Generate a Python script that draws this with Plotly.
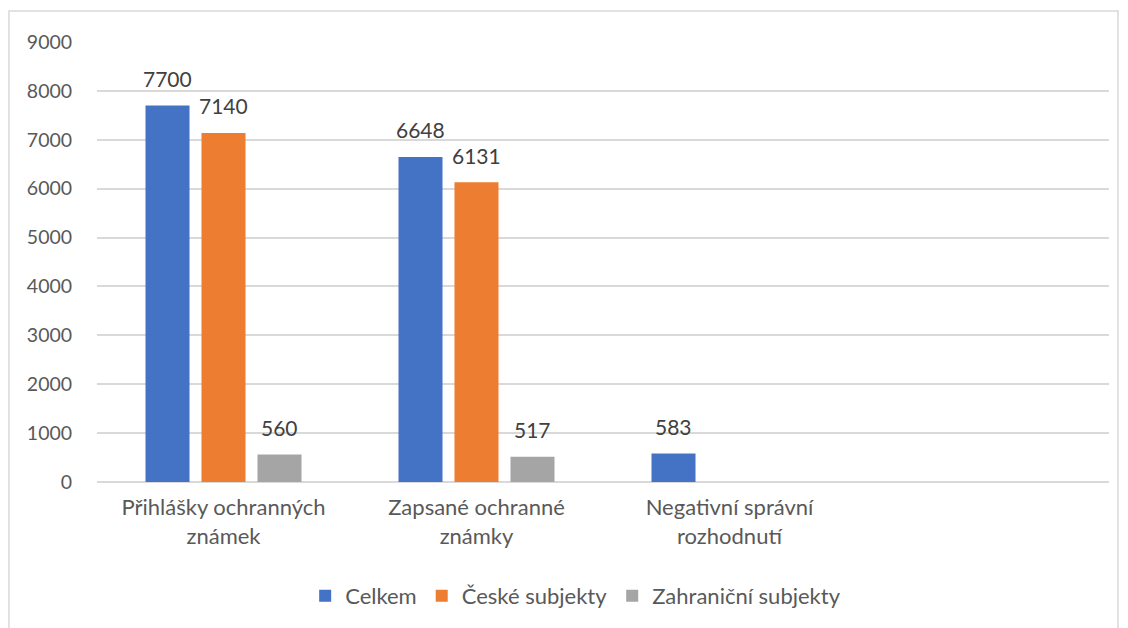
import plotly.graph_objects as go

categories = ["Přihlášky ochranných<br>známek", "Zapsané ochranné<br>známky", "Negativní správní<br>rozhodnutí", " "]
celkem = [7700, 6648, 583, None]
ceske = [7140, 6131, None, None]
zahranicni = [560, 517, None, None]
series_names = ["Celkem", "České subjekty", "Zahraniční subjekty"]
colors = ["#4472C4", "#ED7D31", "#A5A5A5"]

FONT = "Lato, Open Sans, sans-serif"

fig = go.Figure()
annotations = []
slot_px = 56
for i, (name, vals, col) in enumerate(zip(series_names, [celkem, ceske, zahranicni], colors)):
    fig.add_trace(go.Bar(
        name=name, x=categories, y=vals, marker=dict(color=col, line=dict(width=0)),
    ))
    for cat, v in zip(categories, vals):
        if v is None:
            continue
        annotations.append(dict(
            x=cat, y=v, xref="x", yref="y", text=str(v), showarrow=False,
            xshift=(i - 1) * slot_px, yshift=27, yanchor="middle", xanchor="center",
            font=dict(family=FONT, size=21, color="#404040"),
        ))

fig.update_layout(
    width=1120, height=620,
    margin=dict(l=89, r=19, t=34, b=145),
    paper_bgcolor="white", plot_bgcolor="white",
    barmode="group", bargap=0.336, bargroupgap=0.214,
    font=dict(family=FONT, size=20, color="#595959"),
    showlegend=True,
    legend=dict(orientation="h", x=0.473, xanchor="center", y=-0.256, yanchor="middle",
                font=dict(family=FONT, size=22, color="#595959"), traceorder="normal",
                itemwidth=30),
    xaxis=dict(showgrid=False, showline=False, ticks="outside", ticklen=6,
               tickcolor="rgba(0,0,0,0)", tickfont=dict(family=FONT, size=22, color="#595959")),
    yaxis=dict(range=[0, 9000], dtick=1000, showgrid=True, gridcolor="#D9D9D9", gridwidth=1.5,
               zeroline=True, zerolinecolor="#D9D9D9", zerolinewidth=1.5,
               ticks="outside", ticklen=20, tickcolor="rgba(0,0,0,0)",
               tickfont=dict(family=FONT, size=19.5, color="#595959")),
    annotations=annotations,
    shapes=[dict(type="rect", xref="paper", yref="paper", x0=-0.087, x1=1.0089,
                 y0=-0.34, y1=1.0703, line=dict(color="#D9D9D9", width=1.5),
                 fillcolor="rgba(0,0,0,0)", layer="below")],
)

fig.write_html("out.html")
